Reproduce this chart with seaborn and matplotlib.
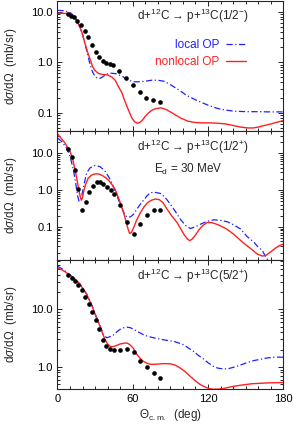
import matplotlib
matplotlib.use("Agg")
import matplotlib.pyplot as plt
import seaborn as sns
import pandas as pd
from matplotlib.ticker import FixedLocator, LogLocator, MultipleLocator, NullFormatter

# ---------- DATA ----------
# panel 1: d+12C -> p+13C(1/2-)
p1_exp_x = [8.7, 10.8, 13.2, 15.9, 18.5, 21.8, 24.4, 27.6, 30.5, 33.4, 36.1, 38.8, 42.0, 44.6,
            49.4, 54.8, 60.2, 65.4, 70.8, 76.2, 82.0]
p1_exp_y = [9.0, 8.3, 7.7, 6.6, 5.5, 4.2, 3.2, 2.2, 1.6, 1.27, 1.06, 0.98, 0.94, 0.87,
            0.67, 0.48, 0.35, 0.26, 0.20, 0.18, 0.165]
p1_nl_x = [0, 4, 8, 11, 14, 16, 18, 20, 22, 24, 26, 28, 30, 32.7, 36, 40, 43.3, 46, 48.6, 51.3,
           53, 55.3, 57.5, 59.3, 61.5, 63.5, 65.5, 67.5, 70, 72.7, 75.5, 78, 82.5, 87, 92, 98,
           104, 110, 116, 122, 128, 134, 140, 146, 152, 156, 160, 165, 170, 175, 180]
p1_nl_y = [9.3, 9.3, 9.2, 8.8, 7.5, 6.3, 4.9, 3.6, 2.3, 1.6, 1.15, 0.82, 0.68, 0.6, 0.57, 0.56,
           0.51, 0.44, 0.33, 0.25, 0.19, 0.135, 0.1, 0.079, 0.066, 0.062, 0.064, 0.07, 0.085, 0.1,
           0.113, 0.12, 0.125, 0.115, 0.097, 0.079, 0.068, 0.064, 0.063, 0.063, 0.062, 0.06, 0.056,
           0.052, 0.050, 0.050, 0.052, 0.056, 0.060, 0.065, 0.070]
p1_loc_x = [0, 4, 8, 11, 14, 16, 18, 20, 22, 24, 26, 28, 30, 32, 34, 36, 38, 42, 47, 52, 56, 60,
            65, 70, 75, 80, 85, 90, 96, 103, 110, 116, 122, 128, 134, 140, 146, 152, 160, 168,
            175, 180]
p1_loc_y = [10.6, 10.5, 10.0, 9.3, 7.7, 6.3, 4.8, 3.5, 2.3, 1.45, 0.9, 0.64, 0.52, 0.48, 0.48,
            0.51, 0.56, 0.61, 0.59, 0.52, 0.45, 0.41, 0.41, 0.42, 0.44, 0.44, 0.42, 0.36, 0.29,
            0.22, 0.18, 0.155, 0.135, 0.121, 0.113, 0.108, 0.106, 0.105, 0.105, 0.104, 0.104, 0.104]

# panel 2: d+12C -> p+13C(1/2+)
p2_exp_x = [8.7, 11.3, 14.0, 16.7, 19.6, 22.5, 25.5, 28.4, 31.3, 34.0, 36.7, 39.3, 42.5, 45.2,
            50.0, 55.3, 60.7, 66.0, 71.3, 76.7, 82.0]
p2_exp_y = [13.1, 7.9, 3.5, 1.04, 0.29, 0.47, 0.90, 1.28, 1.64, 1.64, 1.42, 1.23, 1.0, 0.76,
            0.385, 0.136, 0.063, 0.118, 0.207, 0.29, 0.28]
p2_nl_x = [0, 2, 4, 6, 8, 10, 12, 14, 15.5, 17, 18, 19, 20, 21, 22.5, 24.5, 27, 29, 31.3, 33.5,
           36, 38.5, 41, 43.5, 46, 48, 50, 52, 54, 56, 57.5, 59, 61, 63, 66, 69, 72, 75, 78, 81,
           84, 87.4, 91, 95.4, 98.5, 101, 103.5, 105.5, 107.5, 110, 113, 116, 119.4, 123, 127,
           130, 134, 137.5, 140.6, 144, 148, 151.4, 155, 159.4, 163.4, 166.5, 170, 173.5, 177, 180]
p2_nl_y = [34, 27.7, 23, 19, 14.5, 11.3, 7.3, 3.6, 2.0, 1.0, 0.7, 0.53, 0.62, 0.95, 1.42, 2.1,
           2.5, 2.7, 2.77, 2.7, 2.45, 2.15, 1.8, 1.4, 1.04, 0.7, 0.46, 0.29, 0.17, 0.094, 0.066,
           0.07, 0.1, 0.15, 0.24, 0.35, 0.46, 0.53, 0.57, 0.55, 0.46, 0.30, 0.2, 0.13, 0.085,
           0.061, 0.047, 0.042, 0.047, 0.06, 0.085, 0.11, 0.131, 0.13, 0.117, 0.106, 0.09, 0.075,
           0.062, 0.049, 0.037, 0.030, 0.024, 0.018, 0.016, 0.017, 0.021, 0.026, 0.031, 0.034]
p2_loc_x = [0, 3.3, 7.3, 10, 12.7, 14.5, 16.1, 17.2, 18.2, 19.3, 21.5, 23.3, 26, 30, 34, 38, 42,
            46, 50, 54, 56.5, 58.5, 60.7, 63, 66, 71.3, 74, 78, 82, 86, 90, 94, 98, 102, 106, 110,
            114, 119, 124.6, 130, 135.4, 140, 146, 151, 156.6, 160, 163.4, 166, 168]
p2_loc_y = [26, 21, 14, 8.3, 3.6, 1.58, 0.69, 0.5, 0.52, 0.69, 1.58, 2.95, 4.0, 4.65, 4.3, 3.26,
            1.95, 0.94, 0.41, 0.2, 0.18, 0.19, 0.22, 0.29, 0.41, 0.69, 0.85, 0.86, 0.81, 0.62,
            0.41, 0.26, 0.16, 0.11, 0.09, 0.1, 0.118, 0.14, 0.155, 0.15, 0.137, 0.115, 0.087,
            0.055, 0.038, 0.028, 0.0225, 0.015, 0.012]

# panel 3: d+12C -> p+13C(5/2+)
p3_exp_x = [8.7, 11.3, 14.0, 16.7, 19.3, 22.0, 24.9, 27.9, 30.8, 33.5, 36.1, 38.8, 42.0, 44.7,
            50.0, 55.3, 60.7, 66.0, 71.3, 76.7, 82.0]
p3_exp_y = [38.7, 35.2, 30.8, 26.2, 21.5, 16.4, 12.6, 9.0, 6.4, 4.5, 2.9, 2.3, 2.03, 1.93,
            1.98, 2.03, 1.80, 1.29, 0.99, 0.78, 0.64]
p3_nl_x = [0, 4, 7.3, 10, 12.7, 15, 18, 20.5, 23.3, 26, 28.7, 31, 34, 36, 38, 40, 42, 44, 46, 50,
           54, 56, 58, 60.5, 63.3, 66, 68.7, 71, 74, 78, 82, 86, 90, 94, 98, 102, 106, 110, 114,
           117.5, 120.7, 124, 127.3, 132, 138, 143, 148.7, 155, 162, 170, 180]
p3_nl_y = [52, 48, 43, 39, 35, 31.5, 27, 22.5, 18, 13.5, 9.9, 7.2, 5.05, 3.8, 2.95, 2.5, 2.26,
           2.25, 2.3, 2.5, 2.6, 2.57, 2.4, 2.1, 1.65, 1.4, 1.24, 1.17, 1.11, 1.11, 1.13, 1.14,
           1.13, 1.07, 0.95, 0.82, 0.68, 0.57, 0.49, 0.45, 0.42, 0.41, 0.41, 0.42, 0.45, 0.47,
           0.49, 0.51, 0.52, 0.53, 0.535]
p3_loc_x = [0, 4, 7.3, 10, 12.7, 15, 18, 20.5, 23.3, 26, 28.7, 31, 34, 36.7, 39.3, 42, 44.7, 47,
            50, 53, 55.3, 58, 60.7, 64, 68.7, 72, 76.7, 80, 84.7, 88, 92.7, 96, 100.7, 104, 108.7,
            112, 116.7, 120, 124.7, 128, 132.7, 136, 140.7, 146, 151.3, 156, 162, 167, 172.7,
            176, 180]
p3_loc_y = [56, 50, 44, 39.5, 35.5, 32, 27.5, 23, 18.5, 14, 10.2, 7.4, 5.2, 3.6, 3.2, 3.35, 3.6,
            4.0, 4.5, 4.8, 4.9, 4.8, 4.5, 4.1, 3.6, 3.4, 3.2, 3.1, 2.95, 2.87, 2.77, 2.63, 2.42,
            2.15, 1.85, 1.6, 1.36, 1.18, 1.01, 0.95, 0.92, 0.93, 0.99, 1.08, 1.19, 1.28, 1.36,
            1.43, 1.47, 1.48, 1.47]

titles = ["d+$^{12}$C → p+$^{13}$C(1/2$^{-}$)",
          "d+$^{12}$C → p+$^{13}$C(1/2$^{+}$)",
          "d+$^{12}$C → p+$^{13}$C(5/2$^{+}$)"]
ylims = [(0.044, 15.9), (0.0125, 40.8), (0.408, 71.7)]
ytick_vals = [[0.1, 1.0, 10.0], [0.1, 1.0, 10.0], [1.0, 10.0]]
ytick_labels = [["0.1", "1.0", "10.0"], ["0.1", "1.0", "10.0"], ["1.0", "10.0"]]
xtick_vals = [0, 60, 120, 180]

panels = [
    (p1_exp_x, p1_exp_y, p1_loc_x, p1_loc_y, p1_nl_x, p1_nl_y),
    (p2_exp_x, p2_exp_y, p2_loc_x, p2_loc_y, p2_nl_x, p2_nl_y),
    (p3_exp_x, p3_exp_y, p3_loc_x, p3_loc_y, p3_nl_x, p3_nl_y),
]

# ---------- PLOT ----------
sns.set_style("ticks")
plt.rcParams["font.family"] = ["Liberation Sans", "DejaVu Sans"]
plt.rcParams["mathtext.fontset"] = "custom"
plt.rcParams["mathtext.rm"] = "Liberation Sans"
plt.rcParams["mathtext.it"] = "Liberation Sans:italic"
plt.rcParams["axes.linewidth"] = 0.8

BLUE = "#2020ff"
RED = "#ff2020"

fig, axes = plt.subplots(3, 1, figsize=(2.93, 4.26), dpi=100, sharex=True)
fig.subplots_adjust(left=0.196, right=0.967, top=0.9965, bottom=0.0861, hspace=0)

for i, ax in enumerate(axes):
    ex, ey, lx, ly, nx, ny = panels[i]
    ax.set_yscale("log")
    sns.lineplot(x=lx, y=ly, color=BLUE, lw=0.9, linestyle=(0, (5, 2, 1, 2)),
                 sort=False, estimator=None, ax=ax, label="local OP" if i == 0 else None)
    sns.lineplot(x=nx, y=ny, color=RED, lw=1.0, sort=False, estimator=None, ax=ax,
                 label="nonlocal OP" if i == 0 else None)
    sns.scatterplot(x=ex, y=ey, color="black", s=11, linewidth=0, ax=ax, zorder=5)

    ax.set_xlim(0, 180)
    ax.set_ylim(*ylims[i])
    ax.xaxis.set_major_locator(FixedLocator(xtick_vals))
    ax.xaxis.set_minor_locator(MultipleLocator(10))
    ax.yaxis.set_major_locator(FixedLocator(ytick_vals[i]))
    ax.set_yticklabels(ytick_labels[i])
    ax.yaxis.set_minor_locator(LogLocator(base=10, subs=range(2, 10)))
    ax.yaxis.set_minor_formatter(NullFormatter())
    ax.tick_params(which="both", direction="in", top=True, right=True, labelsize=8,
                   width=0.6, colors="black")
    ax.tick_params(which="major", length=3.5)
    ax.tick_params(which="minor", length=2)
    ax.set_ylabel(r"d$\sigma$/d$\Omega$  (mb/sr)", fontsize=8.5)
    ax.yaxis.set_label_coords(-0.17, 0.5)
    ax.text(0.598, 0.885 if i == 0 else 0.877, titles[i], transform=ax.transAxes,
            ha="center", va="center", fontsize=8.5)

axes[1].text(0.578, 0.703, r"E$_{\rm d}$ = 30 MeV", transform=axes[1].transAxes,
             ha="center", va="center", fontsize=8.5)

leg = axes[0].legend(loc="center right", bbox_to_anchor=(0.835, 0.596), frameon=False,
                     markerfirst=False, fontsize=8.5, handlelength=1.7, handletextpad=0.6,
                     labelspacing=0.45, borderpad=0, borderaxespad=0, labelcolor="linecolor")

axes[2].set_xticklabels([str(v) for v in xtick_vals])
axes[2].set_xlabel(r"$\Theta_{\rm c.m.}$  (deg)", fontsize=8.5, labelpad=2)

plt.savefig("out.png", dpi=100)
plt.close()
